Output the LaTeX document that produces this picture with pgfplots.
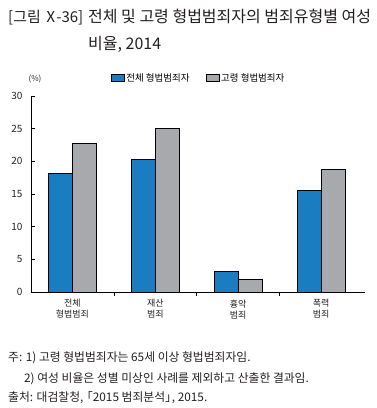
\documentclass[border=0pt]{standalone}
\usepackage{pgfplots}
\pgfplotsset{compat=1.18}
\usepackage{fontspec}
\setmainfont{Noto Sans CJK KR}
\definecolor{barblue}{HTML}{1A7DC1}
\definecolor{bargray}{HTML}{A7A9AC}
\definecolor{txt}{HTML}{231F20}
\begin{document}
\begin{tikzpicture}[x=1pt,y=1pt]
\path[use as bounding box] (0,0) rectangle (376,-408);
\node[anchor=base west, font=\fontsize{15}{16}\selectfont, text=txt, inner sep=0] at (8,-22) {[그림\,Ⅹ\kern-2pt-36]};
\node[anchor=base west, font=\fontsize{16}{18}\selectfont, text=txt, inner sep=0] at (88,-22) {전체 및 고령 형법범죄자의 범죄유형별 여성};
\node[anchor=base west, font=\fontsize{16}{18}\selectfont, text=txt, inner sep=0] at (88,-49) {비율, 2014};
\node[anchor=center, font=\fontsize{8}{10}\selectfont, text=txt] at (35,-79) {(\%)};
\begin{axis}[
  at={(31pt,-292pt)}, anchor=south west,
  scale only axis, width=334pt, height=196pt,
  xmin=-0.5, xmax=3.53, ymin=0, ymax=30,
  axis x line*=bottom, axis y line*=left,
  axis line style={-, line width=0.6pt, black},
  ytick={0,5,10,15,20,25,30},
  tick align=inside, major tick length=4pt, minor tick length=4pt,
  xtick={0,1,2,3},
  xticklabels={{전체\\형법범죄},{재산\\범죄},{흉악\\범죄},{폭력\\범죄}},
  major x tick style={draw=none},
  minor xtick={0.5,1.5,2.5},
  tick style={black, line width=0.6pt},
  /pgf/number format/assume math mode=true,
  yticklabel style={font=\fontsize{10}{12}\selectfont, text=txt, xshift=-5pt},
  xticklabel style={align=center, font=\fontsize{9}{11}\selectfont, text=txt},
  ybar=0pt, bar width=24pt,
  legend columns=2,
  legend style={draw=none, fill=none, at={(0.502,1.092)}, anchor=center, font=\fontsize{9.5}{10}\selectfont, /tikz/every even column/.append style={column sep=14pt}},
  legend image code/.code={\draw[#1, line width=0.5pt] (0pt,-3.5pt) rectangle (13pt,3.5pt);},
]
\addplot[fill=barblue, draw=black, line width=0.6pt] coordinates {(0,18.2) (1,20.3) (2,3.2) (3,15.6)};
\addplot[fill=bargray, draw=black, line width=0.6pt] coordinates {(0,22.7) (1,25.0) (2,1.95) (3,18.8)};
\legend{전체 형법범죄자, 고령 형법범죄자}
\end{axis}
\node[anchor=base west, font=\fontsize{11.8}{12}\selectfont, text=txt, inner sep=0] at (8,-361) {주: 1) 고령 형법범죄자는 65세 이상 형법범죄자임.};
\node[anchor=base west, font=\fontsize{11.8}{12}\selectfont, text=txt, inner sep=0] at (24,-382) {2) 여성 비율은 성별 미상인 사례를 제외하고 산출한 결과임.};
\node[anchor=base west, font=\fontsize{11.8}{12}\selectfont, text=txt, inner sep=0] at (8,-401) {출처: 대검찰청, \kern-5pt「2015 범죄분석」\kern-5pt, 2015.};
\end{tikzpicture}
\end{document}
